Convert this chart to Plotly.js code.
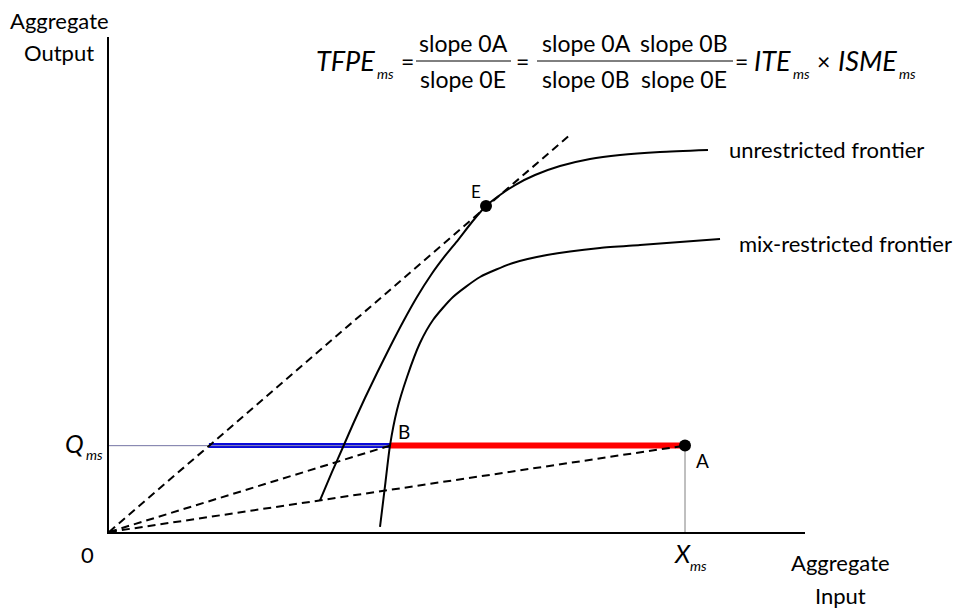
<!DOCTYPE html>
<html>
<head>
<meta charset="utf-8">
<script src="https://cdn.plot.ly/plotly-3.0.1.min.js"></script>
<style>html,body{margin:0;padding:0;background:#fff;}#chart{width:957px;height:609px;}</style>
</head>
<body>
<div id="chart"></div>
<script>
// ---- data (units: aggregate input / aggregate output) ----
const unrestrictedX = [3.663, 3.872, 4.063, 4.253, 4.444, 4.653, 4.878, 5.104, 5.347, 5.590, 5.833, 6.059, 6.302, 6.545, 6.788, 7.049, 7.396, 7.830, 8.351, 8.872, 9.566, 10.399];
const unrestrictedY = [0.549, 1.042, 1.476, 1.910, 2.326, 2.760, 3.212, 3.646, 4.080, 4.462, 4.792, 5.069, 5.382, 5.660, 5.851, 6.024, 6.198, 6.354, 6.476, 6.545, 6.597, 6.632];
const mixX = [4.705, 4.792, 4.878, 5.000, 5.174, 5.399, 5.625, 5.972, 6.441, 7.014, 7.604, 8.524, 9.219, 10.608];
const mixY = [0.087, 0.799, 1.500, 2.118, 2.691, 3.281, 3.681, 4.080, 4.427, 4.670, 4.809, 4.931, 4.983, 5.087];
const pointNames = ['E', 'B', 'A'];
const pointX = [6.545, 4.878, 10.0];
const pointY = [5.660, 1.500, 1.500];
const Xms = 10.0;
const Qms = 1.5;
const rayEEnd = [8.02, 6.91];
const frontierNames = ['unrestricted frontier', 'mix-restricted frontier'];

// derived
const E = {x: pointX[0], y: pointY[0]};
const B = {x: pointX[1], y: pointY[1]};
const A = {x: pointX[2], y: pointY[2]};
const blueStart = Qms / (E.y / E.x);

// ---- layout geometry (pixels) ----
const L = 109, T = 37, W = 696, H = 495;
const px = v => (v - L) / W;
const py = v => (T + H - v) / H;
const FONT = 'Lato, "Open Sans", sans-serif';

const blk = '#000';
const dash = '8px,5px';
const traces = [
  {x: [0, Xms], y: [Qms, Qms], mode: 'lines', line: {color: '#808080', width: 1}},
  {x: [Xms, Xms], y: [0, Qms], mode: 'lines', line: {color: '#808080', width: 1}},
  {x: [blueStart, B.x], y: [Qms, Qms], mode: 'lines', line: {color: '#0a0ad8', width: 5}},
  {x: [0, B.x], y: [Qms, Qms], mode: 'lines', line: {color: '#8a8ab8', width: 1}},
  {x: [B.x, A.x], y: [Qms, Qms], mode: 'lines', line: {color: '#ff0000', width: 6}},
  {x: [0, rayEEnd[0]], y: [0, rayEEnd[1]], mode: 'lines', line: {color: blk, width: 2, dash: dash}},
  {x: [0, B.x], y: [0, B.y], mode: 'lines', line: {color: blk, width: 2, dash: dash}},
  {x: [0, A.x], y: [0, A.y], mode: 'lines', line: {color: blk, width: 2, dash: dash}},
  {x: unrestrictedX, y: unrestrictedY, mode: 'lines', name: frontierNames[0], line: {color: blk, width: 2, shape: 'spline', smoothing: 0.6}},
  {x: mixX, y: mixY, mode: 'lines', name: frontierNames[1], line: {color: blk, width: 2, shape: 'spline', smoothing: 0.6}},
  {x: [E.x, A.x], y: [E.y, A.y], mode: 'markers', marker: {color: blk, size: 12}}
];

const ann = [];
const f = (size) => ({family: FONT, size: size, color: '#000'});
const txt = (text, x, y, opts) => ann.push(Object.assign({
  text: text, xref: 'paper', yref: 'paper', x: px(x), y: py(y), showarrow: false,
  xanchor: 'center', yanchor: 'middle', font: f(22)
}, opts || {}));

// axis titles
txt('Aggregate', 59, 20);
txt('Output', 59, 53);
txt('Aggregate', 840, 562);
txt('Input', 840, 595);
txt('0', 87, 554);
txt('<i>Q</i>', 86, 443, {xanchor: 'right', font: f(25)});
txt('<i>ms</i>', 84, 454, {xanchor: 'left', font: f(14)});
txt('<i>X</i>', 682, 553, {font: f(25)});
txt('<i>ms</i>', 698, 565, {font: f(14)});
// point labels
ann.push({text: pointNames[0], x: E.x, y: E.y, xref: 'x', yref: 'y', showarrow: false, xshift: -10, yshift: 14, font: f(17)});
ann.push({text: pointNames[1], x: B.x, y: B.y, xref: 'x', yref: 'y', showarrow: false, xshift: 14, yshift: 14, font: f(19)});
ann.push({text: pointNames[2], x: A.x, y: A.y, xref: 'x', yref: 'y', showarrow: false, xshift: 17, yshift: -15, font: f(19)});
// frontier labels
txt(frontierNames[0], 727, 149, {xanchor: 'left'});
txt(frontierNames[1], 737, 243, {xanchor: 'left'});

// formula
const fs = 23, fi = 27, fsub = 14;
txt('<i>TFPE</i>', 345, 61, {font: f(fi)});
txt('<i>ms</i>', 385, 73, {font: f(fsub)});
txt('=', 407, 61, {font: f(fs)});
txt('slope 0A', 463, 43, {font: f(fs)});
txt('slope 0E', 463, 79, {font: f(fs)});
txt('=', 522, 61, {font: f(fs)});
txt('slope 0A', 586, 43, {font: f(fs)});
txt('slope 0B', 586, 79, {font: f(fs)});
txt('slope 0B', 684, 43, {font: f(fs)});
txt('slope 0E', 684, 79, {font: f(fs)});
txt('=', 741, 61, {font: f(fs)});
txt('<i>ITE</i>', 772, 61, {font: f(fi)});
txt('<i>ms</i>', 801, 73, {font: f(fsub)});
txt('×', 823, 61, {font: f(fs)});
txt('<i>ISME</i>', 867, 61, {font: f(fi)});
txt('<i>ms</i>', 907, 73, {font: f(fsub)});

const bar = (x0, x1, y) => ({type: 'line', xref: 'paper', yref: 'paper', x0: px(x0), x1: px(x1), y0: py(y), y1: py(y), line: {color: '#000', width: 1}});
const shapes = [bar(416, 511, 61), bar(537, 733, 61)];

const layout = {
  width: 957, height: 609,
  margin: {l: L, r: 957 - L - W, t: T, b: 609 - T - H, pad: 0},
  paper_bgcolor: '#fff', plot_bgcolor: '#fff',
  showlegend: false,
  xaxis: {range: [0, W / 57.6], showgrid: false, zeroline: false, showticklabels: false, ticks: '', showline: true, linecolor: '#000', linewidth: 2, fixedrange: true},
  yaxis: {range: [0, H / 57.6], showgrid: false, zeroline: false, showticklabels: false, ticks: '', showline: true, linecolor: '#000', linewidth: 2, fixedrange: true},
  annotations: ann,
  shapes: shapes,
  font: {family: FONT}
};

Plotly.newPlot('chart', traces, layout, {staticPlot: true});
</script>
</body>
</html>
